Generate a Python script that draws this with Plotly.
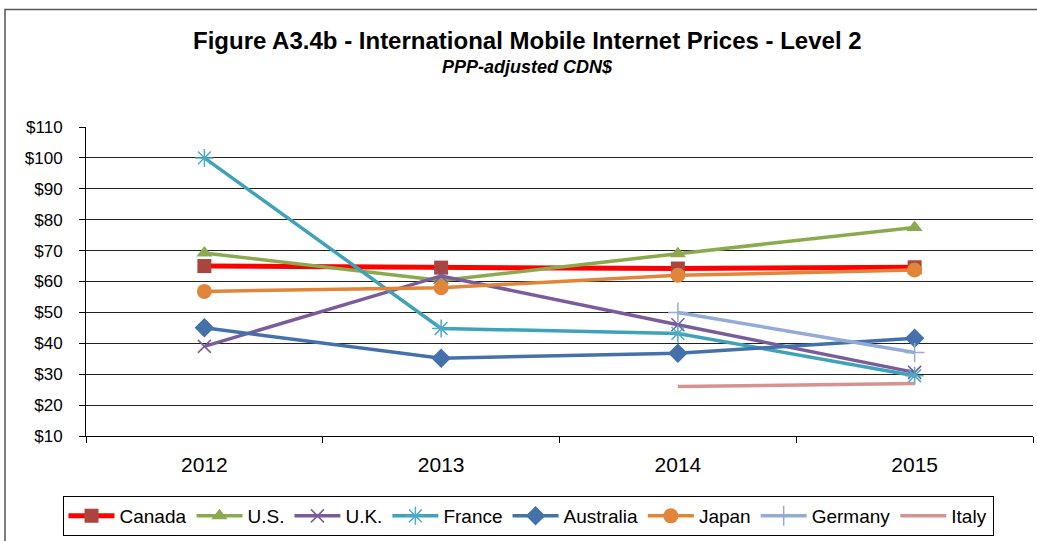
import plotly.graph_objects as go

years = ["2012", "2013", "2014", "2015"]
canada = [65.0, 64.5, 64.2, 64.6]
us = [69.2, 60.3, 69.0, 77.5]
uk = [39.0, 61.8, 46.0, 30.6]
france = [100.0, 44.8, 43.2, 29.5]
australia = [45.0, 35.2, 36.8, 41.6]
japan = [56.8, 58.0, 62.0, 63.7]
germany = [None, None, 50.0, 37.0]
italy = [None, None, 26.0, 27.0]
y_ticks = list(range(10, 111, 10))
y_labels = ["$%d" % v for v in y_ticks]

series = [
    ("Canada", canada, "#FF0000", 5, dict(symbol="square", size=14, color="#A9443F")),
    ("U.S.", us, "#8BAA4E", 3.5, dict(symbol="triangle-up", size=14, color="#8BAA4E")),
    ("U.K.", uk, "#7A5C9A", 3.5, dict(symbol="x-thin-open", size=13, color="#7A5C9A",
                                       line=dict(width=1.5, color="#7A5C9A"))),
    ("France", france, "#3FA2B9", 3.5, dict(symbol="asterisk-open", size=15, color="#4AACC5",
                                             line=dict(width=1.5, color="#4AACC5"))),
    ("Australia", australia, "#4471AA", 3.5, dict(symbol="diamond", size=15, color="#4471AA")),
    ("Japan", japan, "#E0853A", 3.5, dict(symbol="circle", size=15, color="#E0853A")),
    ("Germany", germany, "#94ABD6", 3.5, dict(symbol="cross-thin-open", size=14, color="#94ABD6",
                                                line=dict(width=1.5, color="#94ABD6"))),
    ("Italy", italy, "#D69290", 3.5, None),
]

fig = go.Figure()
for name, vals, col, lw, mk in series:
    if mk is None:
        fig.add_trace(go.Scatter(x=years, y=vals, name=name, mode="lines",
                                 line=dict(color=col, width=lw)))
    else:
        fig.add_trace(go.Scatter(x=years, y=vals, name=name, mode="lines+markers",
                                 line=dict(color=col, width=lw), marker=mk))

W, H = 1037, 541
L, T, R, B = 86, 127, 4, 105
pw = W - L - R
ph = H - T - B


def px(xp):
    return (xp - L) / pw


def py(yp):
    return (H - B - yp) / ph


fig.update_layout(
    width=W, height=H,
    margin=dict(l=L, r=R, t=T, b=B, autoexpand=False),
    paper_bgcolor="white", plot_bgcolor="white",
    font=dict(family="Liberation Sans, Arial, sans-serif", color="black"),
    showlegend=True,
    legend=dict(orientation="h", x=px(528), xanchor="center", y=py(536), yanchor="bottom",
                bordercolor="black", borderwidth=1, font=dict(size=19),
                itemwidth=46, tracegroupgap=0),
    xaxis=dict(type="category", tickson="boundaries", ticks="outside", ticklen=6,
               tickcolor="black", showline=True, linecolor="black", linewidth=1,
               showgrid=False, tickfont=dict(size=21), range=[-0.5, 3.5],
               ticklabelstandoff=10, automargin=False),
    yaxis=dict(range=[10, 110], tickvals=y_ticks, ticktext=y_labels, ticks="outside",
               ticklen=6, tickcolor="black", showline=True, linecolor="black",
               linewidth=1, showgrid=True, gridcolor="#222222", gridwidth=1,
               tickfont=dict(size=17), zeroline=False, ticklabelstandoff=13,
               automargin=False),
    annotations=[
        dict(text="<b>Figure A3.4b - International Mobile Internet Prices - Level 2</b>",
             x=px(527), y=py(41), xref="paper", yref="paper", showarrow=False,
             xanchor="center", yanchor="middle", font=dict(size=24)),
        dict(text="<b><i>PPP-adjusted CDN$</i></b>", x=px(527), y=py(67), xref="paper",
             yref="paper", showarrow=False, xanchor="center", yanchor="middle",
             font=dict(size=18)),
    ],
)

fig.add_shape(type="rect", xref="paper", yref="paper",
              x0=px(5), x1=px(1060),
              y0=py(560), y1=py(9.5),
              line=dict(color="#555555", width=1.5), layer="below")

fig.write_html("out.html", config={"displayModeBar": False},
               post_script="document.body.style.margin='0';document.body.style.overflow='hidden';")
